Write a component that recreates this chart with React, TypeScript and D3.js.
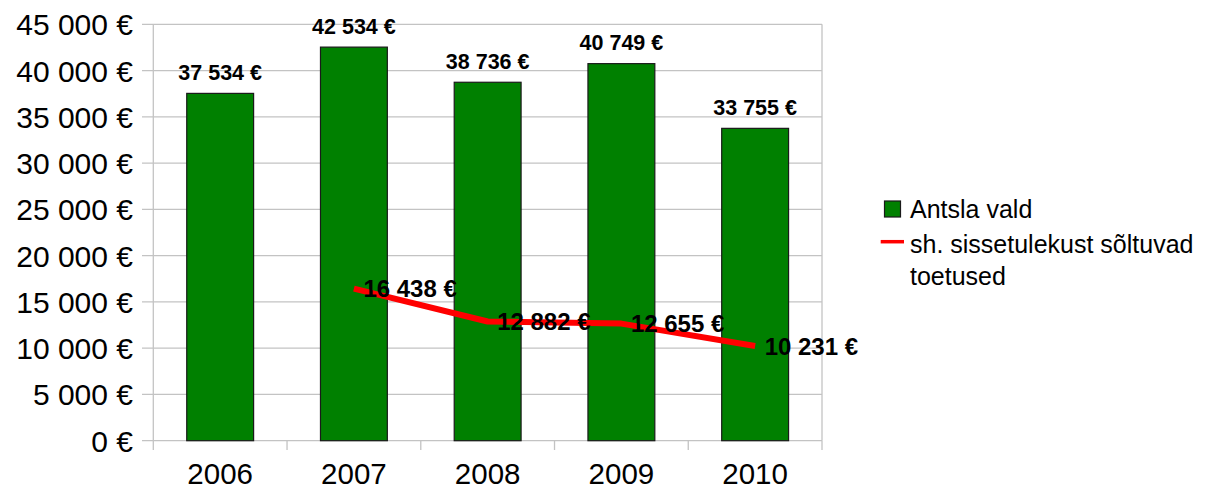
import * as d3 from "d3";

const years = ["2006", "2007", "2008", "2009", "2010"];
const totals = [37534, 42534, 38736, 40749, 33755];
const supportYears = ["2007", "2008", "2009", "2010"];
const support = [16438, 12882, 12655, 10231];
const yTickValues = [0, 5000, 10000, 15000, 20000, 25000, 30000, 35000, 40000, 45000];

const legendBar = "Antsla vald";
const legendLine = ["sh. sissetulekust sõltuvad", "toetused"];

const W = 1211;
const H = 490;
const font = "'Liberation Sans', Arial, sans-serif";

const locale = d3.formatLocale({ decimal: ",", thousands: " ", grouping: [3], currency: ["", " €"] });
const euro = (v: number) => locale.format(",")(v) + " €";

export default function App() {
	const x = d3.scaleBand().domain(years).range([153.3, 822]).paddingInner(0.5).paddingOuter(0.25);
	const y = d3.scaleLinear().domain([0, 45000]).range([440.7, 24.3]);
	const [x0, x1] = x.range();
	const center = (d: string) => (x(d) || 0) + x.bandwidth() / 2;

	const lineData = supportYears.map((d, i) => ({ year: d, value: support[i] }));
	const line = d3
		.line<{ year: string; value: number }>()
		.x((d) => center(d.year))
		.y((d) => y(d.value));

	// category boundaries for the small ticks under the axis
	const boundaries = d3.range(years.length + 1).map((i) => x0 + (x1 - x0) * (i / years.length));
	const grid = "#c3c3c3";

	return (
		<svg width={W} height={H} style={{ position: "absolute", left: 0, top: 0 }} fontFamily={font}>
			<rect width={W} height={H} fill="#fff" />
			{/* grid lines + y ticks */}
			{yTickValues.map((t) => (
				<line key={t} x1={142} x2={x1} y1={y(t)} y2={y(t)} stroke={grid} strokeWidth={1.3} />
			))}
			<line x1={x1} x2={x1} y1={y(45000)} y2={y(0)} stroke={grid} strokeWidth={1.3} />
			<line x1={x0} x2={x0} y1={y(45000)} y2={450} stroke={grid} strokeWidth={1.3} />
			{boundaries.slice(1).map((b, i) => (
				<line key={i} x1={b} x2={b} y1={y(0)} y2={450} stroke={grid} strokeWidth={1.3} />
			))}
			{yTickValues.map((t) => (
				<text key={t} x={133} y={y(t) + 11} textAnchor="end" fontSize={30} fill="#000">
					{euro(t)}
				</text>
			))}
			{years.map((d) => (
				<text key={d} x={center(d)} y={483.5} textAnchor="middle" fontSize={29.5} fill="#000">
					{d}
				</text>
			))}
			{/* bars */}
			{years.map((d, i) => (
				<rect
					key={d}
					x={x(d)}
					y={y(totals[i])}
					width={x.bandwidth()}
					height={y(0) - y(totals[i])}
					fill="#008000"
					stroke="#1a1a1a"
					strokeWidth={1.2}
				/>
			))}
			{years.map((d, i) => (
				<text key={d} x={center(d)} y={y(totals[i]) - 13.5} textAnchor="middle" fontSize={21.5} fontWeight="bold" fill="#000">
					{euro(totals[i])}
				</text>
			))}
			{/* line */}
			<path d={line(lineData) || ""} fill="none" stroke="#ff0000" strokeWidth={6} strokeLinejoin="round" />
			{lineData.map((d) => (
				<text key={d.year} x={center(d.year) + 9.5} y={y(d.value) + 8.5} fontSize={24} fontWeight="bold" fill="#000">
					{euro(d.value)}
				</text>
			))}
			{/* legend */}
			<rect x={884.5} y={201} width={16} height={16} fill="#008000" stroke="#1a1a1a" strokeWidth={1.2} />
			<text x={910} y={218.3} fontSize={25} fill="#000">
				{legendBar}
			</text>
			<line x1={880.7} x2={904} y1={241.7} y2={241.7} stroke="#ff0000" strokeWidth={3.5} />
			{legendLine.map((t, i) => (
				<text key={t} x={910} y={253.3 + i * 31.7} fontSize={25} fill="#000">
					{t}
				</text>
			))}
		</svg>
	);
}
